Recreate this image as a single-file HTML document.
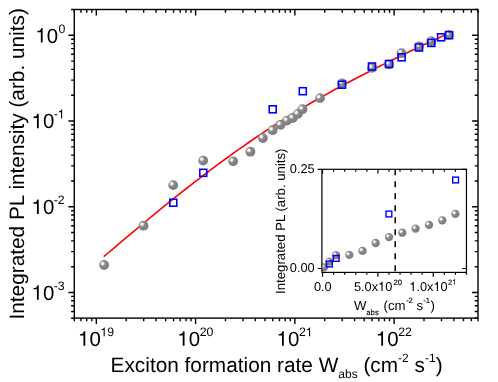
<!DOCTYPE html>
<html><head><meta charset="utf-8"><title>Integrated PL intensity</title>
<style>
html,body{margin:0;padding:0;background:#fff;}
body{width:498px;height:382px;overflow:hidden;}
svg{display:block;will-change:transform;}
text{font-family:"Liberation Sans",sans-serif;fill:#000;text-rendering:geometricPrecision;}
.ax{stroke:#000;stroke-width:1.4;fill:none;stroke-linecap:butt;}
.ax2{stroke:#000;stroke-width:1.2;fill:none;}
.sq{fill:none;stroke:#0000ff;stroke-width:1.6;}
.sq2{fill:none;stroke:#0000ff;stroke-width:1.4;}
.t20{font-size:20px;}
.t21{font-size:20.8px;}
.t12{font-size:12px;}
.t13{font-size:12.8px;}
.t14{font-size:13.2px;}
.t8{font-size:7.7px;stroke:#000;stroke-width:0.12px;}
</style></head><body>
<svg width="498" height="382" viewBox="0 0 498 382">
<defs>
<radialGradient id="ball" cx="0.35" cy="0.36" r="0.66" fx="0.34" fy="0.35">
<stop offset="0" stop-color="#ffffff"/>
<stop offset="0.13" stop-color="#fdfdfd"/>
<stop offset="0.36" stop-color="#989898"/>
<stop offset="0.5" stop-color="#868686"/>
<stop offset="1" stop-color="#7b7b7b"/>
</radialGradient>
<clipPath id="insclip"><rect x="321.9" y="169.3" width="144.55" height="103.1"/></clipPath>
</defs>
<rect width="498" height="382" fill="#fff"/>

<path class="ax" d="M74.30 318.1v3.2 M74.30 9.5v3.2 M80.95 318.1v3.2 M80.95 9.5v3.2 M86.70 318.1v3.2 M86.70 9.5v3.2 M91.78 318.1v3.2 M91.78 9.5v3.2 M96.32 318.1v5.9 M96.32 9.5v5.9 M126.20 318.1v3.2 M126.20 9.5v3.2 M143.68 318.1v3.2 M143.68 9.5v3.2 M156.08 318.1v3.2 M156.08 9.5v3.2 M165.70 318.1v3.2 M165.70 9.5v3.2 M173.56 318.1v3.2 M173.56 9.5v3.2 M180.21 318.1v3.2 M180.21 9.5v3.2 M185.97 318.1v3.2 M185.97 9.5v3.2 M191.04 318.1v3.2 M191.04 9.5v3.2 M195.59 318.1v5.9 M195.59 9.5v5.9 M225.47 318.1v3.2 M225.47 9.5v3.2 M242.95 318.1v3.2 M242.95 9.5v3.2 M255.35 318.1v3.2 M255.35 9.5v3.2 M264.97 318.1v3.2 M264.97 9.5v3.2 M272.83 318.1v3.2 M272.83 9.5v3.2 M279.47 318.1v3.2 M279.47 9.5v3.2 M285.23 318.1v3.2 M285.23 9.5v3.2 M290.31 318.1v3.2 M290.31 9.5v3.2 M294.85 318.1v5.9 M294.85 9.5v5.9 M324.73 318.1v3.2 M324.73 9.5v3.2 M342.21 318.1v3.2 M342.21 9.5v3.2 M354.61 318.1v3.2 M354.61 9.5v3.2 M364.23 318.1v3.2 M364.23 9.5v3.2 M372.09 318.1v3.2 M372.09 9.5v3.2 M378.74 318.1v3.2 M378.74 9.5v3.2 M384.49 318.1v3.2 M384.49 9.5v3.2 M389.57 318.1v3.2 M389.57 9.5v3.2 M394.11 318.1v5.9 M394.11 9.5v5.9 M423.99 318.1v3.2 M423.99 9.5v3.2 M441.47 318.1v3.2 M441.47 9.5v3.2 M453.88 318.1v3.2 M453.88 9.5v3.2 M463.49 318.1v3.2 M463.49 9.5v3.2 M471.35 318.1v3.2 M471.35 9.5v3.2 M478.00 318.1v3.2 M478.00 9.5v3.2 M74.3 318.30h-3.2 M478.0 318.30h-3.2 M74.3 311.51h-3.2 M478.0 311.51h-3.2 M74.3 305.77h-3.2 M478.0 305.77h-3.2 M74.3 300.80h-3.2 M478.0 300.80h-3.2 M74.3 296.41h-3.2 M478.0 296.41h-3.2 M74.3 292.49h-5.9 M478.0 292.49h-5.9 M74.3 266.68h-3.2 M478.0 266.68h-3.2 M74.3 251.59h-3.2 M478.0 251.59h-3.2 M74.3 240.88h-3.2 M478.0 240.88h-3.2 M74.3 232.57h-3.2 M478.0 232.57h-3.2 M74.3 225.78h-3.2 M478.0 225.78h-3.2 M74.3 220.04h-3.2 M478.0 220.04h-3.2 M74.3 215.07h-3.2 M478.0 215.07h-3.2 M74.3 210.68h-3.2 M478.0 210.68h-3.2 M74.3 206.76h-5.9 M478.0 206.76h-5.9 M74.3 180.95h-3.2 M478.0 180.95h-3.2 M74.3 165.86h-3.2 M478.0 165.86h-3.2 M74.3 155.15h-3.2 M478.0 155.15h-3.2 M74.3 146.84h-3.2 M478.0 146.84h-3.2 M74.3 140.05h-3.2 M478.0 140.05h-3.2 M74.3 134.31h-3.2 M478.0 134.31h-3.2 M74.3 129.34h-3.2 M478.0 129.34h-3.2 M74.3 124.95h-3.2 M478.0 124.95h-3.2 M74.3 121.03h-5.9 M478.0 121.03h-5.9 M74.3 95.22h-3.2 M478.0 95.22h-3.2 M74.3 80.13h-3.2 M478.0 80.13h-3.2 M74.3 69.42h-3.2 M478.0 69.42h-3.2 M74.3 61.11h-3.2 M478.0 61.11h-3.2 M74.3 54.32h-3.2 M478.0 54.32h-3.2 M74.3 48.58h-3.2 M478.0 48.58h-3.2 M74.3 43.61h-3.2 M478.0 43.61h-3.2 M74.3 39.22h-3.2 M478.0 39.22h-3.2 M74.3 35.30h-5.9 M478.0 35.30h-5.9 M74.3 9.49h-3.2 M478.0 9.49h-3.2"/>
<rect class="ax" x="74.3" y="9.5" width="403.7" height="308.6"/>
<polyline fill="none" stroke="#ff0000" stroke-width="1.6" points="103.70,256.72 108.07,253.01 112.44,249.30 116.81,245.61 121.18,241.92 125.55,238.23 129.93,234.56 134.30,230.90 138.67,227.25 143.04,223.62 147.41,220.00 151.78,216.39 156.15,212.80 160.52,209.23 164.89,205.68 169.26,202.15 173.63,198.64 178.01,195.15 182.38,191.69 186.75,188.25 191.12,184.84 195.49,181.45 199.86,178.09 204.23,174.76 208.60,171.46 212.97,168.18 217.34,164.93 221.71,161.70 226.08,158.51 230.46,155.34 234.83,152.21 239.20,149.10 243.57,146.03 247.94,142.99 252.31,139.98 256.68,137.00 261.05,134.06 265.42,131.16 269.79,128.29 274.16,125.45 278.54,122.65 282.91,119.89 287.28,117.17 291.65,114.47 296.02,111.82 300.39,109.20 304.76,106.61 309.13,104.05 313.50,101.52 317.87,99.03 322.24,96.56 326.62,94.12 330.99,91.70 335.36,89.32 339.73,86.95 344.10,84.61 348.47,82.29 352.84,79.99 357.21,77.71 361.58,75.45 365.95,73.20 370.32,70.98 374.69,68.77 379.07,66.57 383.44,64.39 387.81,62.23 392.18,60.08 396.55,57.94 400.92,55.81 405.29,53.70 409.66,51.59 414.03,49.50 418.40,47.42 422.77,45.34 427.15,43.28 431.52,41.22 435.89,39.18 440.26,37.14 444.63,35.10 449.00,33.08"/>
<circle cx="104.1" cy="265.0" r="4.9" fill="url(#ball)"/>
<circle cx="143.5" cy="225.7" r="4.9" fill="url(#ball)"/>
<circle cx="173.2" cy="185.1" r="4.9" fill="url(#ball)"/>
<circle cx="203.2" cy="160.6" r="4.9" fill="url(#ball)"/>
<circle cx="233.1" cy="161.3" r="4.9" fill="url(#ball)"/>
<circle cx="250.4" cy="151.7" r="4.9" fill="url(#ball)"/>
<circle cx="262.9" cy="138.1" r="4.9" fill="url(#ball)"/>
<circle cx="272.6" cy="130.2" r="4.9" fill="url(#ball)"/>
<circle cx="280.5" cy="124.8" r="4.9" fill="url(#ball)"/>
<circle cx="287.0" cy="120.6" r="4.9" fill="url(#ball)"/>
<circle cx="292.8" cy="118.0" r="4.9" fill="url(#ball)"/>
<circle cx="297.8" cy="113.9" r="4.9" fill="url(#ball)"/>
<circle cx="302.5" cy="109.2" r="4.9" fill="url(#ball)"/>
<circle cx="320.0" cy="98.1" r="4.9" fill="url(#ball)"/>
<circle cx="342.0" cy="83.3" r="4.9" fill="url(#ball)"/>
<circle cx="372.0" cy="67.9" r="4.9" fill="url(#ball)"/>
<circle cx="389.0" cy="64.4" r="4.9" fill="url(#ball)"/>
<circle cx="401.5" cy="53.1" r="4.9" fill="url(#ball)"/>
<circle cx="419.0" cy="46.3" r="4.9" fill="url(#ball)"/>
<circle cx="431.3" cy="41.1" r="4.9" fill="url(#ball)"/>
<circle cx="448.8" cy="34.8" r="4.9" fill="url(#ball)"/>
<rect class="sq" x="169.80" y="199.20" width="7.0" height="7.0"/>
<rect class="sq" x="199.80" y="169.30" width="7.0" height="7.0"/>
<rect class="sq" x="269.20" y="105.80" width="7.0" height="7.0"/>
<rect class="sq" x="299.30" y="87.70" width="7.0" height="7.0"/>
<rect class="sq" x="338.50" y="81.20" width="7.0" height="7.0"/>
<rect class="sq" x="368.50" y="63.00" width="7.0" height="7.0"/>
<rect class="sq" x="385.50" y="60.50" width="7.0" height="7.0"/>
<rect class="sq" x="398.10" y="53.80" width="7.0" height="7.0"/>
<rect class="sq" x="415.50" y="44.00" width="7.0" height="7.0"/>
<rect class="sq" x="427.80" y="39.40" width="7.0" height="7.0"/>
<rect class="sq" x="437.60" y="33.80" width="7.0" height="7.0"/>
<rect class="sq" x="445.60" y="31.70" width="7.0" height="7.0"/>
<path d="M262 0V509H90V572C215 587 258 614 287 716H350V0Z" transform="translate(78.12,345.80) scale(0.02040,-0.02040)" fill="#000"/><text x="89.46" y="345.80" font-size="20.4">0</text>
<path d="M262 0V509H90V572C215 587 258 614 287 716H350V0Z" transform="translate(100.42,336.20) scale(0.01230,-0.01230)" fill="#000"/><text x="107.26" y="336.20" font-size="12.3">9</text>
<path d="M262 0V509H90V572C215 587 258 614 287 716H350V0Z" transform="translate(177.39,345.80) scale(0.02040,-0.02040)" fill="#000"/><text x="188.73" y="345.80" font-size="20.4">0</text>
<text x="199.69" y="336.20" font-size="12.3">20</text>
<path d="M262 0V509H90V572C215 587 258 614 287 716H350V0Z" transform="translate(276.65,345.80) scale(0.02040,-0.02040)" fill="#000"/><text x="287.99" y="345.80" font-size="20.4">0</text>
<text x="298.95" y="336.20" font-size="12.3">2</text><path d="M262 0V509H90V572C215 587 258 614 287 716H350V0Z" transform="translate(305.79,336.20) scale(0.01230,-0.01230)" fill="#000"/>
<path d="M262 0V509H90V572C215 587 258 614 287 716H350V0Z" transform="translate(375.91,345.80) scale(0.02040,-0.02040)" fill="#000"/><text x="387.25" y="345.80" font-size="20.4">0</text>
<text x="398.21" y="336.20" font-size="12.3">22</text>
<path d="M262 0V509H90V572C215 587 258 614 287 716H350V0Z" transform="translate(35.50,42.55) scale(0.02040,-0.02040)" fill="#000"/><text x="46.84" y="42.55" font-size="20.4">0</text>
<text x="58.50" y="32.70" font-size="12.3">0</text>
<path d="M262 0V509H90V572C215 587 258 614 287 716H350V0Z" transform="translate(31.60,128.28) scale(0.02040,-0.02040)" fill="#000"/><text x="42.94" y="128.28" font-size="20.4">0</text>
<text x="53.75" y="118.43" font-size="12.3">-</text><path d="M262 0V509H90V572C215 587 258 614 287 716H350V0Z" transform="translate(57.85,118.43) scale(0.01230,-0.01230)" fill="#000"/>
<path d="M262 0V509H90V572C215 587 258 614 287 716H350V0Z" transform="translate(31.60,214.01) scale(0.02040,-0.02040)" fill="#000"/><text x="42.94" y="214.01" font-size="20.4">0</text>
<text x="53.75" y="204.16" font-size="12.3">-2</text>
<path d="M262 0V509H90V572C215 587 258 614 287 716H350V0Z" transform="translate(31.60,299.74) scale(0.02040,-0.02040)" fill="#000"/><text x="42.94" y="299.74" font-size="20.4">0</text>
<text x="53.75" y="289.89" font-size="12.3">-3</text>
<text class="t21" x="110.6" y="371.7">Exciton formation rate W<tspan class="t12" dy="6.5">abs</tspan><tspan dy="-6.5"> (cm</tspan><tspan class="t12" dy="-9.5">-2</tspan><tspan dy="9.5"> s</tspan><tspan class="t12" dy="-9.5">-1</tspan><tspan dy="9.5">)</tspan></text>
<text class="t21" transform="translate(24,319.5) rotate(-90)">Integrated PL intensity (arb. units)</text>
<path class="ax2" d="M322.55 272.4v4.3 M322.55 169.3v4.3 M333.62 272.4v2.4 M333.62 169.3v2.4 M344.69 272.4v2.4 M344.69 169.3v2.4 M355.76 272.4v2.4 M355.76 169.3v2.4 M366.83 272.4v2.4 M366.83 169.3v2.4 M377.90 272.4v4.3 M377.90 169.3v4.3 M388.97 272.4v2.4 M388.97 169.3v2.4 M400.04 272.4v2.4 M400.04 169.3v2.4 M411.11 272.4v2.4 M411.11 169.3v2.4 M422.18 272.4v2.4 M422.18 169.3v2.4 M433.25 272.4v4.3 M433.25 169.3v4.3 M444.32 272.4v2.4 M444.32 169.3v2.4 M455.39 272.4v2.4 M455.39 169.3v2.4 M466.46 272.4v2.4 M466.46 169.3v2.4 M321.9 268.50h-4.2 M466.45 268.50h-4.2 M321.9 169.30h-4.2 M466.45 169.30h-4.2"/>
<g clip-path="url(#insclip)">
<circle cx="324.0" cy="267.4" r="4.15" fill="url(#ball)"/>
<circle cx="329.2" cy="261.6" r="4.15" fill="url(#ball)"/>
<circle cx="336.0" cy="255.2" r="4.15" fill="url(#ball)"/>
<circle cx="349.3" cy="254.9" r="4.15" fill="url(#ball)"/>
<circle cx="362.5" cy="250.9" r="4.15" fill="url(#ball)"/>
<circle cx="375.7" cy="243.0" r="4.15" fill="url(#ball)"/>
<circle cx="389.0" cy="237.1" r="4.15" fill="url(#ball)"/>
<circle cx="402.3" cy="232.7" r="4.15" fill="url(#ball)"/>
<circle cx="415.6" cy="228.6" r="4.15" fill="url(#ball)"/>
<circle cx="429.0" cy="224.9" r="4.15" fill="url(#ball)"/>
<circle cx="442.3" cy="220.3" r="4.15" fill="url(#ball)"/>
<circle cx="455.4" cy="213.9" r="4.15" fill="url(#ball)"/>
</g>
<rect class="ax2" x="321.9" y="169.3" width="144.55" height="103.09999999999997"/>
<rect class="sq2" x="326.50" y="261.10" width="5.8" height="5.8"/>
<rect class="sq2" x="333.30" y="255.50" width="5.8" height="5.8"/>
<rect class="sq2" x="386.00" y="211.10" width="5.8" height="5.8"/>
<rect class="sq2" x="452.70" y="177.10" width="5.8" height="5.8"/>
<path d="M395.2 169.3V272.4" stroke="#000" stroke-width="1.5" stroke-dasharray="6 6" fill="none"/>
<text class="t13" x="289.8" y="173.2">0.25</text>
<text class="t13" x="289.8" y="272.4">0.00</text>
<text class="t13" x="313.9" y="291.0">0.0</text>
<text x="353.90" y="291.00" font-size="12.8">5.0x</text><path d="M262 0V509H90V572C215 587 258 614 287 716H350V0Z" transform="translate(378.09,291.00) scale(0.01280,-0.01280)" fill="#000"/><text x="385.21" y="291.00" font-size="12.8">0</text>
<g stroke="#000" stroke-width="0.15">
<text x="393.60" y="284.60" font-size="7.7">20</text>
</g>
<path d="M262 0V509H90V572C215 587 258 614 287 716H350V0Z" transform="translate(409.30,291.00) scale(0.01280,-0.01280)" fill="#000"/><text x="416.42" y="291.00" font-size="12.8">.0x</text><path d="M262 0V509H90V572C215 587 258 614 287 716H350V0Z" transform="translate(433.49,291.00) scale(0.01280,-0.01280)" fill="#000"/><text x="440.61" y="291.00" font-size="12.8">0</text>
<g stroke="#000" stroke-width="0.15">
<text x="447.90" y="284.60" font-size="7.7">2</text><path d="M262 0V509H90V572C215 587 258 614 287 716H350V0Z" transform="translate(452.18,284.60) scale(0.00770,-0.00770)" fill="#000"/>
</g>
<text class="t14" x="353.9" y="309.7">W<tspan class="t8" dy="5.3">abs</tspan><tspan dy="-5.3" dx="1.2"> (cm</tspan><tspan class="t8" dy="-6.9" dx="0.3">-2</tspan><tspan dy="6.9"> s</tspan><tspan class="t8" dy="-6.9" dx="0.3">-1</tspan><tspan dy="6.9" dx="0.3">)</tspan></text>
<text class="t14" transform="translate(285.3,293.9) rotate(-90)">Integrated PL (arb. units)</text>
</svg></body></html>
